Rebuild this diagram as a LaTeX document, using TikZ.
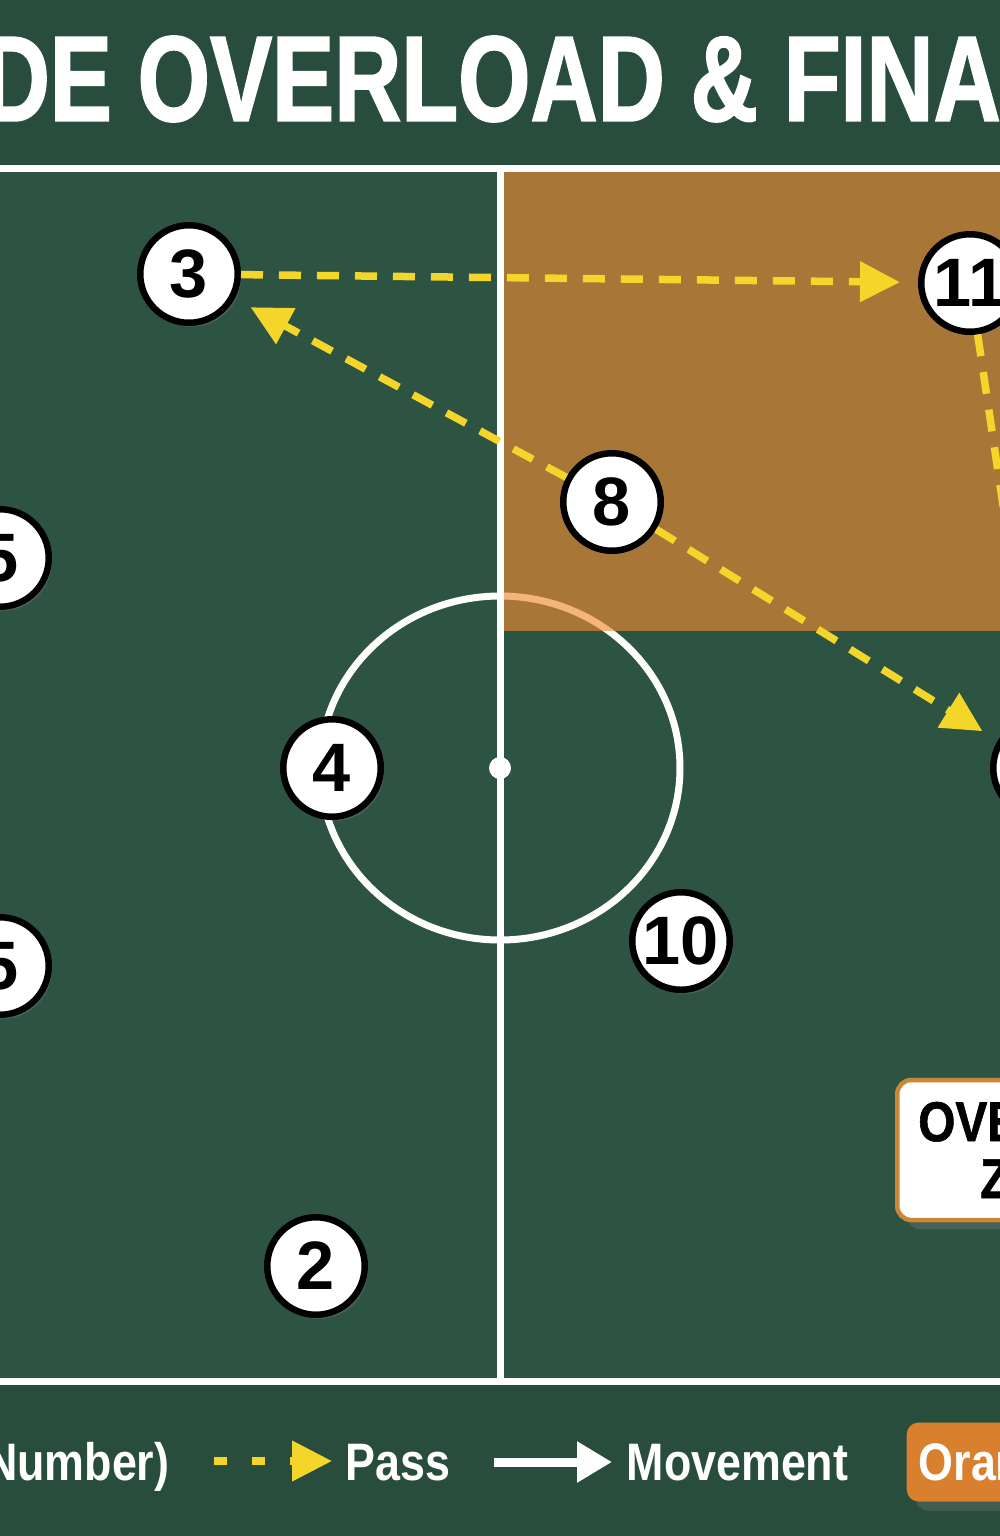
\documentclass[tikz,border=0pt]{standalone}
\usepackage{fontspec}
\setmainfont{Liberation Sans}
\newfontfamily\headfont[FakeStretch = 0.765, FakeBold = 1.4]{Liberation Sans}
\newfontfamily\boxfont[FakeStretch = 0.85, FakeBold = 1]{Liberation Sans}
\newfontfamily\keyfont[FakeStretch = 0.85]{Liberation Sans}
\usetikzlibrary{arrows.meta, shadows}
\definecolor{bandgreen}{HTML}{294D3D}
\definecolor{pitchgreen}{HTML}{2D5443}
\definecolor{zoneorange}{HTML}{EE8B33}
\definecolor{passyellow}{HTML}{F4D52A}
\definecolor{keyorange}{HTML}{D9802F}
\definecolor{boxorange}{HTML}{C98838}
\tikzset{
    chalk/.style = {white, line width = 0.7mm},
    player/.style = {circle, draw = black, line width = 0.65mm, fill = white,
        minimum size = 9.75mm, inner sep = 0pt,
        font = \bfseries\fontsize{19.5}{19.5}\selectfont,
        drop shadow = {opacity = 0.35, shadow xshift = 0.3mm, shadow yshift = -0.4mm}},
    pass/.style = {passyellow, line width = 0.75mm, dash pattern = on 2.2mm off 1.6mm,
        -{Triangle[length = 4mm, width = 3.9mm]}, shorten > = 1.8mm},
    keytext/.style = {inner sep = 0pt, text = white,
        font = \keyfont\bfseries\fontsize{15}{15}\selectfont},
}
\begin{document}
\begin{tikzpicture}[x = 0.1mm, y = -0.1mm]
        \useasboundingbox (0, 0) rectangle (1000, 1536);
        \clip (0, 0) rectangle (1000, 1536);
        \fill[bandgreen] (0, 0) rectangle (1000, 1536);
        % pitch
        \fill[pitchgreen] (-20, 168) rectangle (1020, 1381);
        \draw[chalk] (-20, 168) -- (1020, 168);
        \draw[chalk] (-20, 1381) -- (1020, 1381);
        \draw[chalk] (500, 168) -- (500, 1381);
        \draw[chalk] (500, 768) ellipse (180 and 172);
        \fill[white] (500, 768) circle (11);
        \fill[zoneorange, opacity = 0.64] (504, 172) rectangle (1020, 631);
        % players
        \node[player] (p3) at (189, 274) {3};
        \node[player] (p11) at (970, 283) {11};
        \node[player] (p8) at (612, 502) {8};
        \node[player] (p5a) at (0, 558) {5};
        \node[player] (p4) at (332, 768) {4};
        \node[player] (pr) at (1042, 768) {};
        \node[player] (p5b) at (0, 966) {5};
        \node[player] (p10) at (681, 941) {10};
        \node[player] (p2) at (316, 1266) {2};
        % passes
        \draw[pass] (p3) -- (p11);
        \draw[pass] (p8) -- (p3);
        \draw[pass] (p8) -- (pr);
        \draw[pass] (p11) -- (pr);
        \node[anchor = west, fill = white, draw = boxorange, line width = 0.45mm,
            rounded corners = 1.4mm, minimum height = 14mm,
            inner xsep = 2.1mm, align = left, drop shadow = {opacity = 0.3},
            font = \boxfont\bfseries\fontsize{16}{16.2}\selectfont]
            (ozone) at (895, 1150) {OVE\\\hspace*{6.2mm}Z};
        % legend
        \node[keytext, anchor = base east] (knum) at (170, 1480) {Number)};
        \coordinate (pa) at (214, 1461);
        \coordinate (pb) at (332, 1461);
        \draw[pass, shorten > = 0pt, dash pattern = on 1.3mm off 2.5mm] (pa) -- (pb);
        \node[keytext, anchor = base west] (kpass) at (345, 1480) {Pass};
        \coordinate (ma) at (494, 1462);
        \coordinate (mb) at (612, 1462);
        \draw[white, line width = 0.9mm, -{Triangle[length = 3.5mm, width = 3.9mm]}] (ma) -- (mb);
        \node[keytext, anchor = base west] (kmove) at (626, 1480) {Movement};
        \node[keytext, anchor = west, fill = keyorange, rounded corners = 1.2mm,
            minimum height = 7.9mm, inner xsep = 1.2mm, drop shadow = {opacity = 0.3}]
            (kzone) at (906, 1462) {Oran};
        % title
        \node[anchor = west, inner sep = 0pt, text = white,
            font = \headfont\bfseries\fontsize{34.6}{34.6}\selectfont]
            (title) at (-18, 79) {DE OVERLOAD \& FINA};
\end{tikzpicture}
\end{document}
